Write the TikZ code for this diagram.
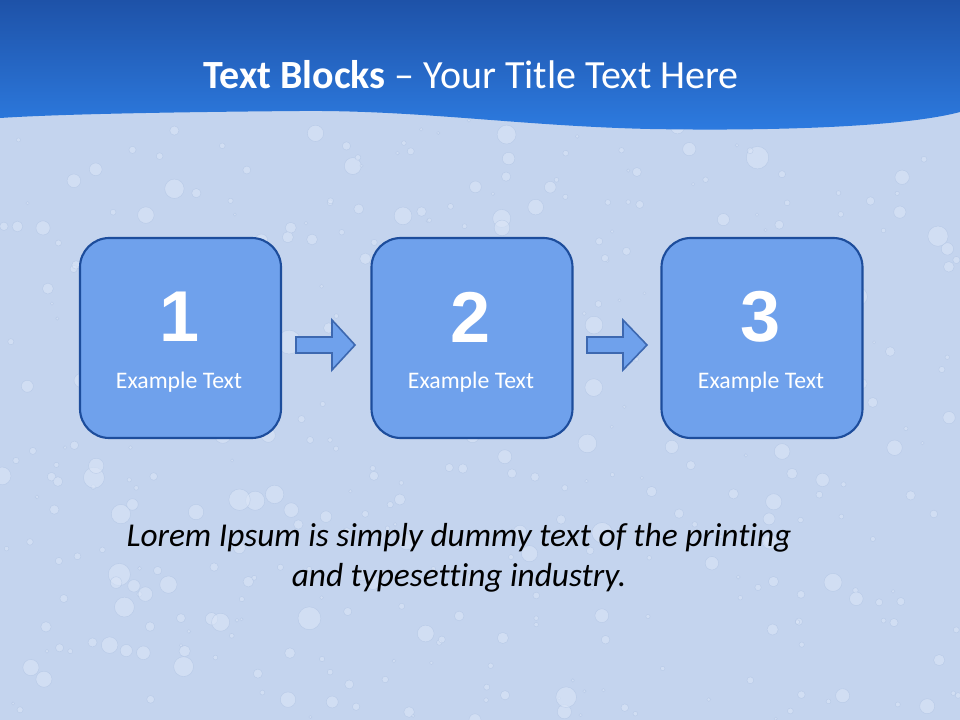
\documentclass[tikz,border=0pt]{standalone}
\usepackage{fontspec}
\setmainfont{Carlito}[Ligatures={NoCommon}]
\newfontfamily\numfont{Liberation Sans}
\pgfmathsetseed{7}
\definecolor{bgblue}{HTML}{C4D4EE}
\definecolor{dropc}{HTML}{DCE7F8}
\definecolor{dropr}{HTML}{A9BEE0}
\definecolor{boxfill}{HTML}{6FA1EC}
\definecolor{boxline}{HTML}{1D4D9C}
\definecolor{arrline}{HTML}{3D68B0}
\definecolor{hdtop}{HTML}{1E52A8}
\definecolor{hdbot}{HTML}{2D7BE0}
\tikzset{
  stepbox/.style={draw=boxline, line width=1.6pt, fill=boxfill, rounded corners=22pt},
  arrowshape/.style={draw=arrline, line width=1.2pt, fill=boxfill, line join=miter},
  numtext/.style={text=white, font=\numfont\bfseries\fontsize{54}{54}\selectfont},
  labtext/.style={text=white, font=\fontsize{17.8}{20}\selectfont},
  drop/.style={fill=dropc, draw=dropr, line width=0.3pt, opacity=0.55}
}
\begin{document}
\begin{tikzpicture}[x=0.75pt,y=-0.75pt]
\useasboundingbox (0,0) rectangle (960,720);
\fill[bgblue] (0,0) rectangle (960,720);
% water drops texture
\foreach \i in {1,...,420}{
  \pgfmathsetmacro{\px}{rnd*960}
  \pgfmathsetmacro{\py}{110+rnd*610}
  \pgfmathsetmacro{\pr}{1.5+rnd*rnd*11}
  \fill[drop] (\px,\py) circle (\pr);
}
% header with wave
\shade[top color=hdtop, bottom color=hdbot]
  (0,0) -- (960,0) -- (960,112)
  .. controls (900,128) and (760,131) .. (650,129)
  .. controls (520,126) and (420,110) .. (300,111)
  .. controls (180,112) and (60,114) .. (0,118) -- cycle;
\node[text=white, font=\fontsize{30}{36}\selectfont] (title) at (471,75)
  {\textbf{Text Blocks} -- Your Title Text Here};
% boxes
\node[stepbox, minimum width=201pt*0.75, minimum height=200pt*0.75] (b1) at (180.5,338) {};
\node[stepbox, minimum width=201pt*0.75, minimum height=200pt*0.75] (b2) at (472,338) {};
\node[stepbox, minimum width=201pt*0.75, minimum height=200pt*0.75] (b3) at (762,338) {};
\node[numtext] (n1) at (180,317) {1};
\node[numtext] (n2) at (471,317) {2};
\node[numtext] (n3) at (761,317) {3};
\node[labtext] (t1) at (179,382) {Example Text};
\node[labtext] (t2) at (471,382) {Example Text};
\node[labtext] (t3) at (761,382) {Example Text};
% arrows
\draw[arrowshape] (296,337) -- (332,337) -- (332,320) -- (355,345) -- (332,370) -- (332,353) -- (296,353) -- cycle;
\draw[arrowshape] (587,337) -- (623,337) -- (623,320) -- (647,345) -- (623,370) -- (623,353) -- (587,353) -- cycle;
% body text
\node[align=center, font=\itshape\fontsize{25}{30}\selectfont, text=black] (body) at (459,558)
  {Lorem Ipsum is simply dummy text of the printing\\and typesetting industry.};
\end{tikzpicture}
\end{document}
